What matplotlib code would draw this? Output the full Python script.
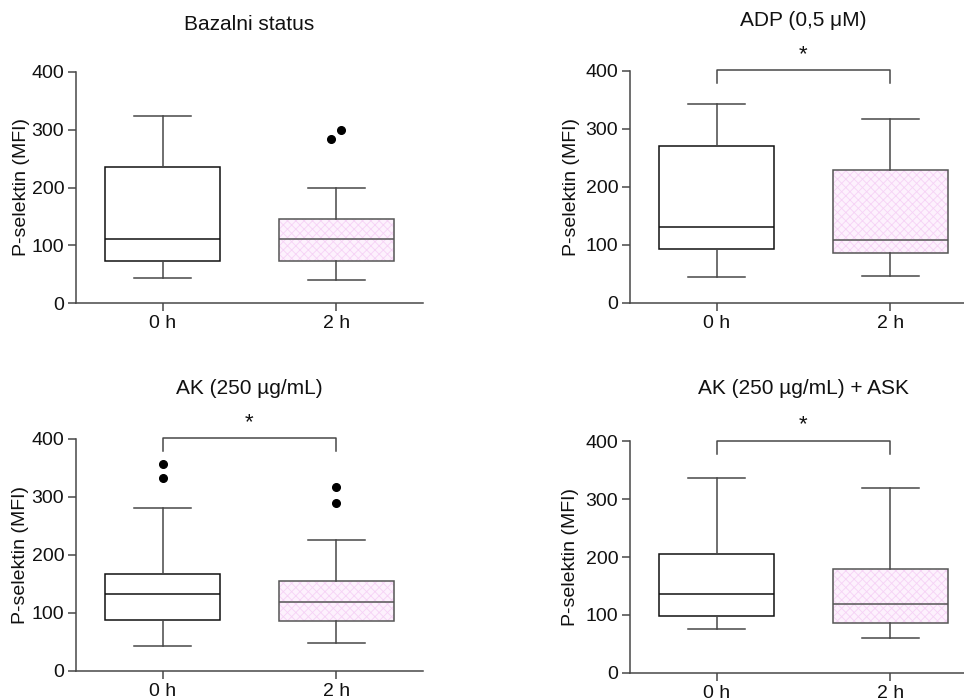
import matplotlib
matplotlib.use("Agg")
import matplotlib.pyplot as plt
from matplotlib.patches import PathPatch

plt.rcParams['font.family'] = ['Liberation Sans', 'DejaVu Sans']
plt.rcParams['hatch.linewidth'] = 0.6

# Data (P-selektin, MFI)
groups = ["0 h", "2 h"]
titles = ["Bazalni status", "ADP (0,5 μM)", "AK (250 µg/mL)", "AK (250 µg/mL) + ASK"]
whis_lo = [[43, 40], [44, 46], [43, 48], [76, 60]]
q1 = [[72, 73], [92, 85], [87, 85], [98, 86]]
median = [[110, 111], [130, 108], [133, 119], [136, 119]]
q3 = [[236, 146], [271, 228], [166, 154], [206, 180]]
whis_hi = [[324, 199], [342, 317], [281, 225], [336, 320]]
fliers = [[[], [284, 299]], [[], []], [[356, 332], [316, 290]], [[], []]]
significant = [False, True, True, True]

W, H = 964, 698
fig = plt.figure(figsize=(W / 100, H / 100), dpi=100)

# axes boxes in pixels: left, y of value 0, y of value 400
ax_px = [(76, 303, 72), (630, 302.7, 70.7), (76, 670.7, 438.7), (630, 672.7, 441.3)]
ylab_x = [-0.133, -0.144, -0.135, -0.146]
title_gap = [47, 50, 50, 53]
ax_w = 347

gray = '#484848'

for i in range(4):
    left, y0, y400 = ax_px[i]
    ax_h = y0 - y400
    ax = fig.add_axes([left / W, (H - y0) / H, ax_w / W, ax_h / H])
    stats = []
    for j in range(2):
        stats.append(dict(med=median[i][j], q1=q1[i][j], q3=q3[i][j],
                          whislo=whis_lo[i][j], whishi=whis_hi[i][j], fliers=[]))
    res = ax.bxp(stats, positions=[0, 1], widths=0.66, patch_artist=True,
                 showfliers=False, capwidths=0.33,
                 boxprops=dict(facecolor='none', linewidth=1.1),
                 whiskerprops=dict(color=gray, linewidth=1.1),
                 capprops=dict(color=gray, linewidth=1.1),
                 medianprops=dict(linewidth=1.1))
    res['boxes'][0].set_edgecolor('#111111')
    res['medians'][0].set_color('#111111')
    res['boxes'][1].set_edgecolor('#555555')
    res['medians'][1].set_color('#555555')
    # pink patterned fill for the 2 h box
    hp = PathPatch(res['boxes'][1].get_path(), facecolor='#fdf1fd',
                   edgecolor='#f6d2f6', linewidth=0, hatch='xxxx', zorder=1.5)
    ax.add_patch(hp)

    # outliers, dodged sideways when two of them nearly overlap
    for j in range(2):
        vals = sorted(fliers[i][j])
        xs = [j] * len(vals)
        if len(vals) == 2 and vals[1] - vals[0] < 20:
            xs = [j - 0.03, j + 0.03]
        ax.plot(xs, vals, 'o', color='black', markersize=5.5, zorder=3)

    ax.set_xlim(-0.5, 1.5)
    ax.set_ylim(0, 400)
    ax.set_yticks([0, 100, 200, 300, 400])
    ax.set_xticks([0, 1])
    ax.set_xticklabels(groups)
    for s in ['top', 'right']:
        ax.spines[s].set_visible(False)
    for s in ['left', 'bottom']:
        ax.spines[s].set_color(gray)
        ax.spines[s].set_linewidth(1.1)
    ax.tick_params(axis='both', colors=gray, labelcolor='#111111', labelsize=14,
                   length=6, width=1.1, pad=2.5)
    ax.set_ylabel("P-selektin (MFI)", fontsize=14, color='#111111')
    ax.yaxis.set_label_coords(ylab_x[i], 0.5)
    ax.text(0.5, 1 + title_gap[i] / ax_h, titles[i], transform=ax.transAxes,
            ha='center', va='center', fontsize=15, color='#111111')

    if significant[i]:
        ax.plot([0, 0, 1, 1], [378, 401, 401, 378], color=gray, linewidth=1.1,
                clip_on=False)
        ax.text(0.5, 428, "*", ha='center', va='center', fontsize=16,
                color='#111111', clip_on=False)

fig.savefig("out.png", dpi=100)
